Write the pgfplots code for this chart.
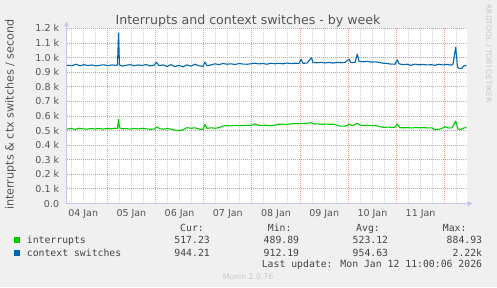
\documentclass[border=0pt]{standalone}
\usepackage{pgfplots}
\pgfplotsset{compat=1.18}
\usepackage{pgfplotstable}
\usepackage{fontspec}
\setmainfont{DejaVu Sans}
\newfontfamily\monofont{DejaVu Sans Mono}
\usetikzlibrary{arrows.meta}
\definecolor{bgc}{HTML}{F0F0F0}
\definecolor{txt}{HTML}{555555}
\definecolor{legtxt}{HTML}{444444}
\definecolor{majgrid}{HTML}{E89696}
\definecolor{mingrid}{HTML}{CCCCCC}
\definecolor{axiscol}{HTML}{C4C4F0}
\definecolor{intcol}{HTML}{00CC00}
\definecolor{ctxcol}{HTML}{0066B3}

% x values are positions along the time axis (one unit = 30 min; midnight 05 Jan at 107.5)
\pgfplotstableread{
px v
67 948
72 945
76 955
80 944
84 952
88 946
92 950
96 943
100 948
104 951
108 945
112 950
116 947
117.5 950
118.5 1168
119.5 950
122 942
126 948
130 952
134 945
138 950
142 946
146 953
150 944
154 948
156.5 968
159 946
163 950
167 940
171 952
175 938
179 948
183 937
187 951
191 942
195 955
199 944
203 940
205 970
207 945
211 950
215 958
219 952
223 960
227 955
231 958
235 953
239 960
243 956
247 955
251 958
255 962
259 957
263 960
267 955
271 962
275 958
279 961
283 958
287 963
291 959
295 962
299 960
301 988
303 961
307 963
311.5 1000
313 966
317 965
321 968
325 964
329 967
333 963
337 968
341 965
345 967
349 990
351 966
355 968
357.3 1024
359 975
363 972
367 975
371 970
375 971
379 968
383 962
387 960
391 956
395 955
397.3 985
399 958
403 952
407 955
411 947
415 956
419 951
423 954
427 950
431 952
435 948
439 955
443 950
447 954
451 949
453 955
455.7 1072
457.5 935
459 926
462 928
464 945
466.5 946
}\ctxdata

\pgfplotstableread{
px v
67 510
71 515
75 508
79 516
83 512
87 510
91 514
95 511
99 515
103 510
107 514
111 512
115 516
117.5 515
118.5 576
119.5 520
122 512
126 514
130 510
134 515
138 511
142 515
146 512
150 509
154 510
157 525
160 512
164 510
168 514
172 508
175 502
179 500
183 505
187 520
191 516
195 519
199 512
201 506
203 510
205 542
207 515
211 519
215 516
219 520
223 532
227 534
231 532
235 536
239 534
243 535
247 536
251 535
255 546
258 537
262 535
266 537
270 533
274 536
278 543
282 544
286 542
290 545
294 548
298 547
302 549
306 548
311 555
314 545
318 546
322 543
326 545
330 543
334 544
338 533
342 530
346 532
349.3 544
352 533
357.3 550
360 537
364 535
368 536
372 534
376 535
380 526
384 522
388 524
392 521
395 523
397.3 544
400 520
404 519
408 520
412 518
416 521
420 519
424 520
428 518
432 519
434 507
438 508
441 512
445 527
448 518
452 519
455.7 565
458 510
461 509
464 518
466.5 521
}\intdata

\begin{document}
\begin{tikzpicture}[x=1bp,y=1bp]
\fill[bgc] (0,0) rectangle (497,287);
\useasboundingbox (0,0) rectangle (497,287);
\begin{axis}[
  at={(66.5bp,83.5bp)}, anchor=south west,
  scale only axis, width=400bp, height=175bp,
  xmin=66.5, xmax=466.5, ymin=0, ymax=1200,
  axis lines=left,
  axis background/.style={fill=white},
  x axis line style={draw=axiscol, line width=1bp, -{Triangle[length=5bp,width=5bp]}, shorten >=-6bp},
  y axis line style={draw=axiscol, line width=1bp, -{Triangle[length=5bp,width=5bp]}, shorten >=-7bp},
  xtick={83.2,131.4,179.6,227.8,276.0,324.2,372.4,420.6},
  xticklabels={04 Jan,05 Jan,06 Jan,07 Jan,08 Jan,09 Jan,10 Jan,11 Jan},
  minor xtick={71.5,83.5,95.5,119.5,131.5,143.5,167.5,179.5,191.5,215.5,227.5,239.5,263.5,275.5,287.5,312.5,324.5,336.5,360.5,372.5,384.5,408.5,420.5,432.5,456.5},
  extra x ticks={107.5,155.5,203.5,251.5,300.5,348.5,396.5,444.5},
  extra x tick labels={},
  extra x tick style={grid=major},
  ytick={0,100,200,300,400,500,600,700,800,900,1000,1100,1200},
  yticklabels={0.0,0.1 k,0.2 k,0.3 k,0.4 k,0.5 k,0.6 k,0.7 k,0.8 k,0.9 k,1.0 k,1.1 k,1.2 k},
  major tick length=0pt, minor tick length=0pt,
  ymajorgrids=true, xminorgrids=true,
  major grid style={draw=majgrid, line width=1bp, dash pattern=on 1bp off 1bp},
  minor grid style={draw=mingrid, line width=1bp, dash pattern=on 1bp off 1bp},
  tick label style={font=\fontsize{9.5bp}{11bp}\selectfont, text=txt, inner sep=0pt},
  yticklabel style={anchor=base east, xshift=-7.2bp, yshift=-3.5bp},
  xticklabel style={anchor=base, yshift=-13.2bp},
  clip=false,
]
\addplot[ctxcol, line width=1.1bp, line join=round] table[x=px, y=v] {\ctxdata};
\addplot[intcol, line width=1.1bp, line join=round] table[x=px, y=v] {\intdata};
\end{axis}
% title
\node[anchor=base, text=txt, font=\fontsize{12.6bp}{15bp}\selectfont, inner sep=0pt] at (248,263) {Interrupts and context switches - by week};
% y label
\node[anchor=base, rotate=90, text=txt, font=\fontsize{11.2bp}{13bp}\selectfont, inner sep=0pt] at (13.5,172.5) {interrupts \& ctx switches / second};
% watermark
\node[rotate=-90, text=black!22, font=\fontsize{7.6bp}{9bp}\selectfont, inner sep=0pt] at (488.7,233.5) {RRDTOOL / TOBI OETIKER};
% legend
\begin{scope}[every node/.style={inner sep=0pt, text=legtxt, font=\monofont\fontsize{9.8bp}{11bp}\selectfont}]
\node[anchor=base east] at (204,56) {Cur:};
\node[anchor=base east] at (291.7,56) {Min:};
\node[anchor=base east] at (380,56) {Avg:};
\node[anchor=base east] at (466.7,56) {Max:};
\fill[intcol] (13.5,44) rectangle (19.8,50);
\node[anchor=base west] at (26.7,43.5) {interrupts};
\node[anchor=base east] at (210,43.5) {517.23};
\node[anchor=base east] at (299.3,43.5) {489.89};
\node[anchor=base east] at (388.3,43.5) {523.12};
\node[anchor=base east] at (482.3,43.5) {884.93};
\fill[ctxcol] (13.5,31.5) rectangle (19.8,37.5);
\node[anchor=base west] at (26.7,31) {context switches};
\node[anchor=base east] at (210,31) {944.21};
\node[anchor=base east] at (299.3,31) {912.19};
\node[anchor=base east] at (388.3,31) {954.63};
\node[anchor=base east] at (482.3,31) {2.22k};
\node[anchor=base east] at (482.3,19.5) {Last update: Mon Jan 12 11:00:06 2026};
\end{scope}
\node[anchor=base, inner sep=0pt, text=black!22, font=\fontsize{7.7bp}{9bp}\selectfont] at (248,7.5) {Munin 2.0.76};
\end{tikzpicture}
\end{document}
